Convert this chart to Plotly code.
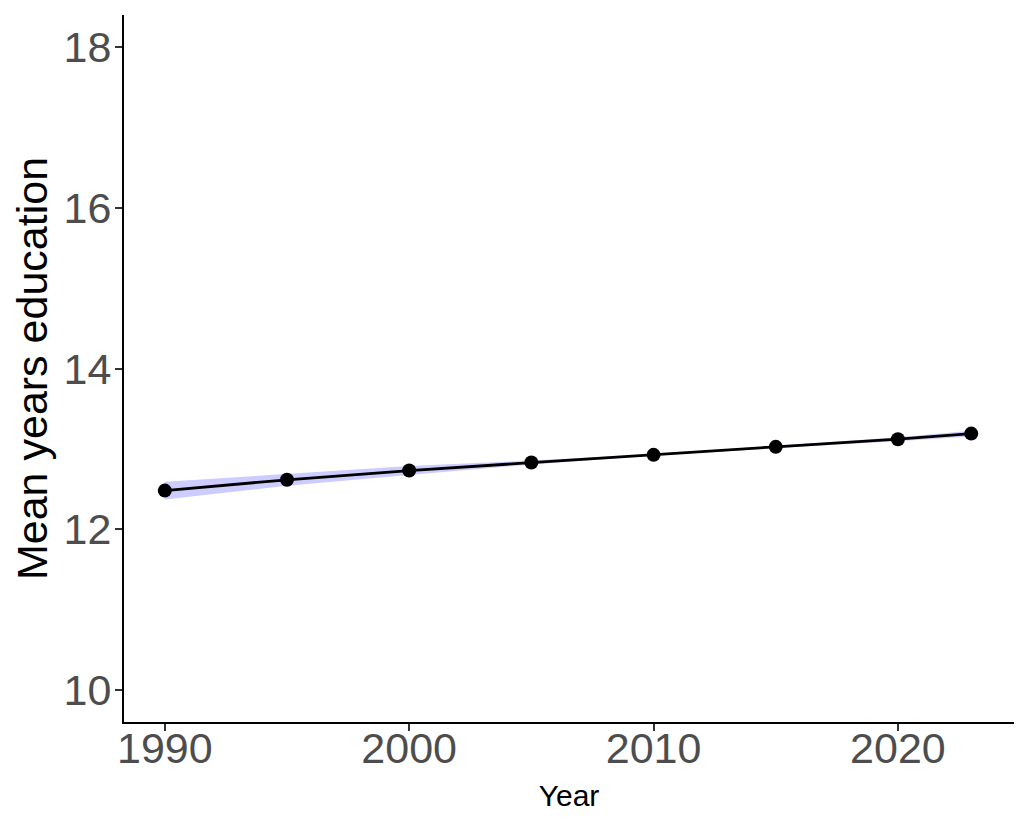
import plotly.graph_objects as go

years = [1990, 1995, 2000, 2005, 2010, 2015, 2020, 2023]
mean_edu = [12.48, 12.615, 12.73, 12.83, 12.925, 13.025, 13.12, 13.19]
ci_low = [12.37, 12.54, 12.675, 12.805, 12.915, 13.01, 13.095, 13.155]
ci_high = [12.59, 12.69, 12.785, 12.855, 12.935, 13.04, 13.145, 13.225]
y_ticks = [10, 12, 14, 16, 18]
x_ticks = [1990, 2000, 2010, 2020]

fig = go.Figure()
fig.add_trace(go.Scatter(x=years, y=ci_low, mode="lines", line=dict(width=0),
                         showlegend=False, hoverinfo="skip"))
fig.add_trace(go.Scatter(x=years, y=ci_high, mode="lines", line=dict(width=0),
                         fill="tonexty", fillcolor="rgba(0,0,255,0.2)",
                         showlegend=False, hoverinfo="skip"))
fig.add_trace(go.Scatter(x=years, y=mean_edu, mode="lines+markers",
                         line=dict(color="black", width=2.8),
                         marker=dict(color="black", size=14),
                         showlegend=False))

font_family = "Liberation Sans, Arial, sans-serif"
fig.update_layout(
    width=1030, height=828,
    margin=dict(l=116, r=24, t=7, b=114),
    paper_bgcolor="white", plot_bgcolor="white",
    font=dict(family=font_family),
    xaxis=dict(range=[1988.33, 2024.75], tickvals=x_ticks,
               showline=True, linecolor="black", linewidth=2,
               ticks="outside", ticklen=7, tickcolor="#333333", tickwidth=1.5,
               ticklabelstandoff=-20,
               tickfont=dict(size=43, color="#4d4d4d"),
               showgrid=False, zeroline=False,
               title=dict(text="Year", font=dict(size=30, color="black"), standoff=14)),
    yaxis=dict(range=[9.6, 18.4], tickvals=y_ticks,
               showline=True, linecolor="black", linewidth=2,
               ticks="outside", ticklen=7, tickcolor="#333333", tickwidth=1.5,
               ticklabelstandoff=-5,
               tickfont=dict(size=43, color="#4d4d4d"),
               showgrid=False, zeroline=False,
               title=dict(text="Mean years education", font=dict(size=43, color="black"), standoff=12)),
)
fig.write_html("out.html")
